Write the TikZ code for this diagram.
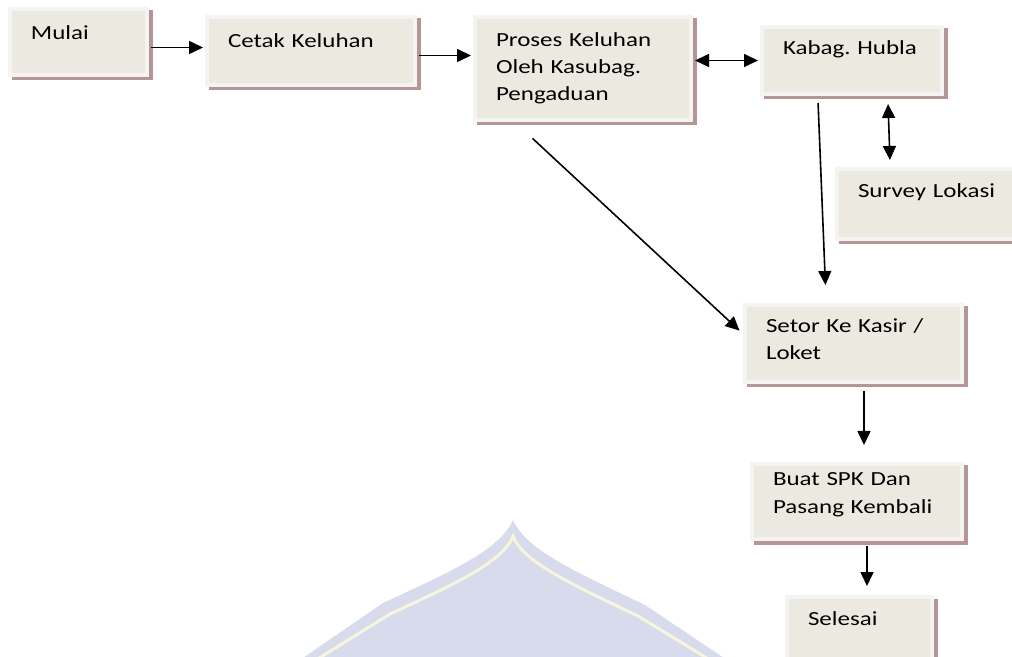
\documentclass[tikz,border=0pt]{standalone}
\usepackage{fontspec}
\setmainfont{Carlito}[FakeStretch=1.25]
\usetikzlibrary{arrows.meta,shadows}
\frenchspacing

\definecolor{boxfill}{HTML}{ECEAE0}
\definecolor{boxline}{HTML}{F4F4F2}
\definecolor{boxshade}{HTML}{B59595}
\definecolor{domefill}{HTML}{D8DBEB}
\definecolor{domeline}{HTML}{F7F5DE}

\begin{document}
\begin{tikzpicture}[x=0.5pt,y=-0.5pt,
  box/.style={draw=boxline,line width=2pt,fill=boxfill,anchor=north west,
    align=left,inner xsep=10.5pt,inner ysep=0pt,text height=15pt,
    font=\fontsize{10pt}{13.5pt}\selectfont,
    copy shadow={shadow xshift=1.75pt,shadow yshift=-1.75pt,draw=boxshade,fill=boxshade}},
  arr/.style={-{Triangle[length=7pt,width=6.5pt]},line width=0.8pt,shorten >=1pt,shorten <=1pt},
  both/.style={{Triangle[length=7pt,width=6.5pt]}-{Triangle[length=7pt,width=6.5pt]},line width=0.8pt,shorten >=1pt,shorten <=1pt}]
\useasboundingbox (0,0) rectangle (1012,657);

% watermark
\fill[domefill] (300,660) -- (383,603) .. controls (450,572) and (500,550) .. (513,520)
  .. controls (526,550) and (576,572) .. (645,605) -- (727,660) -- cycle;
\draw[domeline,line width=1.5pt] (316,660) -- (390,614) .. controls (455,584) and (503,562) .. (513,536)
  .. controls (523,562) and (571,584) .. (638,616) -- (710,660);

\node[box,text width=47.5pt,text depth=17.5pt,text height=15.5pt] (mulai) at (8,7) {Mulai};
\node[box,text width=83pt,text depth=18.5pt,text height=15.5pt] (cetak) at (205,15) {Cetak Keluhan};
\node[box,text width=87pt,text depth=36.5pt] (proses) at (473,15) {Proses Keluhan\\Oleh Kasubag.\\Pengaduan};
\node[box,text width=69pt,text depth=19.5pt,text height=14pt] (kabag) at (760,25) {Kabag. Hubla};
\node[box,text width=69pt,text depth=20.5pt,text height=14.5pt] (survey) at (835,167) {Survey Lokasi};
\node[box,text width=87.5pt,text depth=24.5pt,text height=14pt] (setor) at (743,303) {Setor Ke Kasir /\\Loket};
\node[box,text width=84pt,text depth=26.5pt,text height=11pt] (buat) at (750,462) {Buat SPK Dan\\Pasang Kembali};
\node[box,text width=51.5pt,text depth=26pt,text height=14pt] (selesai) at (785,595) {Selesai};

\draw[arr] ([yshift=-2.75pt]mulai.east) -- ([yshift=-2.75pt]mulai.east -| cetak.west);
\draw[arr] ([yshift=-2.25pt]cetak.east) -- ([yshift=-2.25pt]cetak.east -| proses.west);
\draw[both] (proses.east |- kabag.west) -- (kabag.west);
\draw[arr] ([xshift=-17pt,yshift=-2.5pt]kabag.south) -- ([xshift=-14pt,yshift=8pt]setor.north);
\draw[both] ([xshift=18pt,yshift=-3pt]kabag.south) -- ([xshift=-18.5pt,yshift=2.5pt]survey.north);
\draw[arr] ([xshift=-26pt,yshift=-7.5pt]proses.south) -- ([xshift=-1pt,yshift=5.75pt]setor.west);
\draw[arr] ([xshift=5.25pt,yshift=-2.5pt]setor.south) -- ([xshift=3.5pt,yshift=7.5pt]buat.north);
\draw[arr] ([xshift=5pt,yshift=-1.5pt]buat.south) -- ([xshift=3.75pt,yshift=3.5pt]selesai.north);
\end{tikzpicture}
\end{document}
